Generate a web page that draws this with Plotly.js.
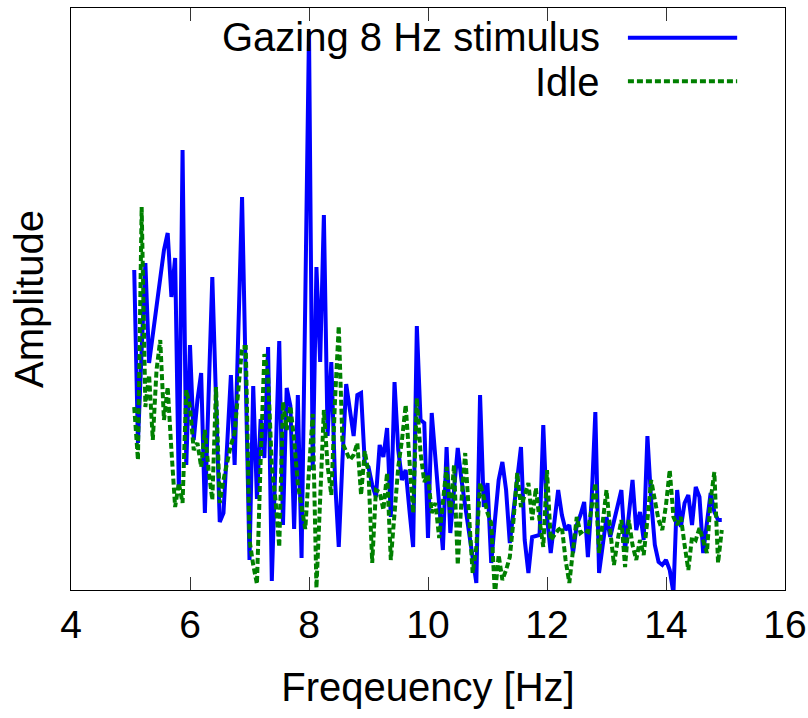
<!DOCTYPE html>
<html>
<head>
<meta charset="utf-8">
<script src="https://cdn.plot.ly/plotly-3.0.1.min.js"></script>
<style>html,body{margin:0;padding:0;background:#fff;}#chart{width:808px;height:718px;}</style>
</head>
<body>
<div id="chart"></div>
<script>
// Frequency bins (Hz)
const freqHz = [
 5.0625,5.125,5.1875,5.25,5.3125,5.375,5.4375,5.5,5.5625,5.625,5.6875,5.75,5.8125,5.875,5.9375,6,
 6.0625,6.125,6.1875,6.25,6.3125,6.375,6.4375,6.5,6.5625,6.625,6.6875,6.75,6.8125,6.875,6.9375,7,
 7.0625,7.125,7.1875,7.25,7.3125,7.375,7.4375,7.5,7.5625,7.625,7.6875,7.75,7.8125,7.875,7.9375,8,
 8.0625,8.125,8.1875,8.25,8.3125,8.375,8.4375,8.5,8.5625,8.625,8.6875,8.75,8.8125,8.875,8.9375,9,
 9.0625,9.125,9.1875,9.25,9.3125,9.375,9.4375,9.5,9.5625,9.625,9.6875,9.75,9.8125,9.875,9.9375,10,
 10.0625,10.125,10.1875,10.25,10.3125,10.375,10.4375,10.5,10.5625,10.625,10.6875,10.75,10.8125,10.875,10.9375,11,
 11.0625,11.125,11.1875,11.25,11.3125,11.375,11.4375,11.5,11.5625,11.625,11.6875,11.75,11.8125,11.875,11.9375,12,
 12.0625,12.125,12.1875,12.25,12.3125,12.375,12.4375,12.5,12.5625,12.625,12.6875,12.75,12.8125,12.875,12.9375,13,
 13.0625,13.125,13.1875,13.25,13.3125,13.375,13.4375,13.5,13.5625,13.625,13.6875,13.75,13.8125,13.875,13.9375,14,
 14.0625,14.125,14.1875,14.25,14.3125,14.375,14.4375,14.5,14.5625,14.625,14.6875,14.75,14.8125,14.875,14.9375
];

// Amplitude, gazing at the 8 Hz stimulus (arbitrary units)
const gazingAmp = [
 3.20,1.47,2.40,3.27,2.27,2.55,2.85,3.15,3.40,3.57,2.93,3.32,1.00,4.40,1.25,2.45,
 1.50,1.90,2.17,0.77,1.95,3.13,1.90,0.68,0.77,1.50,2.15,1.25,2.60,3.93,2.10,0.30,
 2.04,0.91,1.71,1.32,2.43,0.09,1.30,2.49,0.65,2.02,1.84,0.61,1.95,0.32,2.90,5.59,
 1.20,3.23,2.28,3.75,1.54,2.28,1.10,0.43,1.30,2.06,1.80,1.54,1.95,1.97,1.27,1.23,
 1.05,0.93,1.45,1.33,1.62,0.73,2.08,1.40,1.10,1.20,0.80,0.43,2.64,1.70,1.67,0.52,
 1.77,1.30,0.85,0.40,1.43,0.57,1.00,1.42,1.10,0.83,0.60,0.35,0.07,1.95,0.83,1.07,
 0.27,0.70,1.10,1.28,1.00,0.47,0.80,1.15,1.43,0.50,0.17,0.53,0.54,0.55,1.65,0.73,
 0.37,0.70,1.00,0.75,0.60,0.65,0.37,0.65,0.75,0.88,0.33,0.90,1.78,0.17,0.45,0.73,
 0.53,0.70,0.85,1.00,0.40,0.75,1.10,0.60,0.78,0.50,1.54,0.90,0.45,0.28,0.25,0.30,
 0.20,-0.03,1.00,0.63,0.87,0.95,0.65,1.03,0.93,0.37,0.70,0.97,0.78,0.70,0.70
];

// Amplitude, idle (arbitrary units)
const idleAmp = [
 1.83,1.30,3.83,1.83,2.15,1.50,2.20,2.50,1.70,2.03,1.40,0.83,1.07,0.87,2.00,1.83,
 1.40,1.47,1.23,1.60,1.20,0.90,2.03,0.87,1.10,1.27,1.45,1.57,2.00,2.43,2.43,0.50,
 0.25,0.06,1.30,2.36,2.14,1.24,0.90,0.43,1.88,1.60,1.84,1.50,1.06,0.80,0.61,1.20,
 1.76,0.02,0.90,1.80,1.24,0.95,1.90,2.64,1.47,1.39,1.30,1.35,1.47,0.95,1.39,1.17,
 0.27,1.00,0.98,0.80,1.17,0.30,0.77,1.23,1.50,1.85,1.30,0.77,1.92,1.37,1.08,1.15,
 0.77,0.87,0.52,0.90,1.23,0.77,1.25,0.25,0.90,1.37,0.70,0.17,0.43,1.07,0.93,0.77,
 0.67,-0.05,0.35,0.10,0.20,0.33,0.70,1.17,0.83,0.95,1.07,0.70,1.02,0.70,0.43,1.20,
 0.50,0.55,0.60,0.63,0.30,0.07,0.40,0.73,0.57,0.60,0.58,0.80,1.07,0.37,0.73,1.00,
 0.60,0.25,0.50,0.70,0.23,0.70,0.45,0.30,0.50,0.35,0.70,1.10,0.90,0.70,0.60,0.85,
 1.20,0.73,0.65,0.73,0.45,0.20,0.53,0.50,0.62,0.50,0.37,0.90,1.18,0.27,0.60
];

const seriesNames = ["Gazing 8 Hz stimulus", "Idle"];
const xTicks = [4, 6, 8, 10, 12, 14, 16];

const FONT = '"Liberation Sans", Arial, Helvetica, sans-serif';
const BLUE = '#0000ff';
const GREEN = '#008000';

const traces = [
  {x: freqHz, y: gazingAmp, type: 'scatter', mode: 'lines', name: seriesNames[0],
   line: {color: BLUE, width: 4}},
  {x: freqHz, y: idleAmp, type: 'scatter', mode: 'lines', name: seriesNames[1],
   line: {color: GREEN, width: 4, dash: '6px,3px'}}
];

const layout = {
  width: 808, height: 718,
  margin: {l: 71, r: 23, t: 8, b: 128},
  paper_bgcolor: '#fff', plot_bgcolor: '#fff',
  font: {family: FONT, color: '#000', size: 40},
  showlegend: false,
  xaxis: {
    range: [4, 16], tickvals: xTicks, ticktext: xTicks.map(String),
    ticks: 'inside', ticklen: 13, tickwidth: 1, tickcolor: '#333',
    mirror: 'allticks', showline: true, linecolor: '#000', linewidth: 1,
    showgrid: false, zeroline: false,
    tickfont: {family: FONT, size: 39, color: '#000'},
    title: {text: 'Freqeuency [Hz]', font: {family: FONT, size: 40, color: '#000'}, standoff: 28},
    automargin: false
  },
  yaxis: {
    range: [0, 5.82], showticklabels: false, ticks: '',
    mirror: true, showline: true, linecolor: '#000', linewidth: 1,
    showgrid: false, zeroline: false,
    title: {text: 'Amplitude', font: {family: FONT, size: 40, color: '#000'}, standoff: 14},
    automargin: false
  },
  annotations: [
    {xref: 'paper', yref: 'paper', x: 0.743, y: 0.951, xanchor: 'right', yanchor: 'middle',
     text: seriesNames[0], showarrow: false, font: {family: FONT, size: 40, color: '#000'}},
    {xref: 'paper', yref: 'paper', x: 0.743, y: 0.872, xanchor: 'right', yanchor: 'middle',
     text: seriesNames[1], showarrow: false, font: {family: FONT, size: 40, color: '#000'}}
  ],
  shapes: [
    {type: 'line', xref: 'paper', yref: 'paper', x0: 0.780, x1: 0.933, y0: 0.949, y1: 0.949,
     line: {color: BLUE, width: 4}},
    {type: 'line', xref: 'paper', yref: 'paper', x0: 0.780, x1: 0.933, y0: 0.874, y1: 0.874,
     line: {color: GREEN, width: 4, dash: '6px,3px'}}
  ]
};

Plotly.newPlot('chart', traces, layout, {displayModeBar: false, staticPlot: true});
</script>
</body>
</html>
